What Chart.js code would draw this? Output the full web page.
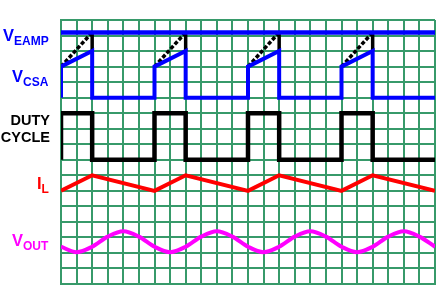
<!DOCTYPE html>
<html>
<head>
<meta charset="utf-8">
<script src="https://cdn.jsdelivr.net/npm/chart.js@4/dist/chart.umd.min.js"></script>
<style>
  html, body { margin: 0; padding: 0; background: #fff; }
  #wrap { position: relative; width: 448px; height: 293px; }
  .lbl { position: absolute; font-family: "Liberation Sans", Arial, sans-serif; font-weight: bold; white-space: nowrap; line-height: 1; }
  .lbl sub { font-size: 12px; vertical-align: -4px; }
  .big { font-size: 16.5px; }
  .duty { font-size: 14.5px; text-align: right; right: 398px; line-height: 16.5px; color: #000; }
</style>
</head>
<body>
<div id="wrap">
  <canvas id="timing" width="448" height="293"></canvas>
  <div class="lbl big" style="left:3px;top:27px;color:#0000ff">V<sub>EAMP</sub></div>
  <div class="lbl big" style="left:12px;top:68px;color:#0000ff">V<sub>CSA</sub></div>
  <div class="lbl duty" style="top:112px">DUTY<br>CYCLE</div>
  <div class="lbl big" style="left:37px;top:175px;color:#ff0000">I<sub>L</sub></div>
  <div class="lbl big" style="left:12px;top:232px;color:#ff00ff">V<sub>OUT</sub></div>
</div>
<script>
// grid is 24 columns x 17 rows, y counted in rows from the top
const cols = 24;
const rows = 17;

const vEampX = [0, 24];
const vEampY = [0.8, 0.8];

const vCsaX = [0, 0, 2, 2, 6, 6, 8, 8, 12, 12, 14, 14, 18, 18, 20, 20, 24];
const vCsaY = [5, 3, 2, 5, 5, 3, 2, 5, 5, 3, 2, 5, 5, 3, 2, 5, 5];

// dashed ramp up to the error amp level, then the black drop back to the csa ramp
const rampX = [0, 2, null, 6, 8, null, 12, 14, null, 18, 20];
const rampY = [3, 0.8, null, 3, 0.8, null, 3, 0.8, null, 3, 0.8];
const tripX = [2, 2, null, 8, 8, null, 14, 14, null, 20, 20];
const tripY = [0.8, 2, null, 0.8, 2, null, 0.8, 2, null, 0.8, 2];

const dutyX = [0, 0, 2, 2, 6, 6, 8, 8, 12, 12, 14, 14, 18, 18, 20, 20, 24];
const dutyY = [9, 6, 6, 9, 9, 6, 6, 9, 9, 6, 6, 9, 9, 6, 6, 9, 9];

const ilX = [0, 2, 6, 8, 12, 14, 18, 20, 24];
const ilY = [11, 10, 11, 10, 11, 10, 11, 10, 11];

const vOutX = [0, 1, 2, 3, 4, 5, 6, 7, 8, 9, 10, 11, 12, 13, 14, 15, 16, 17, 18, 19, 20, 21, 22, 23, 24];
const vOutY = [14.6, 14.95, 14.6, 13.95, 13.6, 13.95, 14.6, 14.95, 14.6, 13.95, 13.6, 13.95,
               14.6, 14.95, 14.6, 13.95, 13.6, 13.95, 14.6, 14.95, 14.6, 13.95, 13.6, 13.95, 14.6];

function pts(xs, ys) {
  return xs.map((x, i) => (x === null ? { x: null, y: null } : { x: x, y: ys[i] }));
}

function line(xs, ys, color, extra) {
  return Object.assign({
    data: pts(xs, ys),
    borderColor: color,
    borderWidth: 4,
    pointRadius: 0,
    fill: false,
    tension: 0,
    spanGaps: false,
    borderCapStyle: "butt",
    borderJoinStyle: "miter",
  }, extra || {});
}

const gridGreen = "#379a6a";

new Chart(document.getElementById("timing"), {
  type: "line",
  data: {
    datasets: [
      line(vEampX, vEampY, "#0000ff", { borderWidth: 4.5 }),
      line(vCsaX, vCsaY, "#0000ff"),
      line(rampX, rampY, "#000000", { borderWidth: 3.5, borderDash: [4, 2] }),
      line(tripX, tripY, "#000000", { borderWidth: 3.5 }),
      line(dutyX, dutyY, "#000000", { borderWidth: 4.5 }),
      line(ilX, ilY, "#ff0000"),
      line(vOutX, vOutY, "#ff00ff", { cubicInterpolationMode: "monotone" }),
    ],
  },
  options: {
    responsive: false,
    animation: false,
    parsing: true,
    layout: { padding: { left: 61, right: 13, top: 20, bottom: 9 } },
    plugins: { legend: { display: false }, tooltip: { enabled: false } },
    scales: {
      x: {
        type: "linear",
        min: 0,
        max: cols,
        ticks: { display: false, stepSize: 1 },
        grid: { color: gridGreen, lineWidth: 2, drawTicks: false },
        border: { color: gridGreen, width: 2 },
      },
      y: {
        type: "linear",
        reverse: true,
        min: 0,
        max: rows,
        ticks: { display: false, stepSize: 1 },
        grid: { color: gridGreen, lineWidth: 2, drawTicks: false },
        border: { color: gridGreen, width: 2 },
      },
    },
  },
});
</script>
</body>
</html>
